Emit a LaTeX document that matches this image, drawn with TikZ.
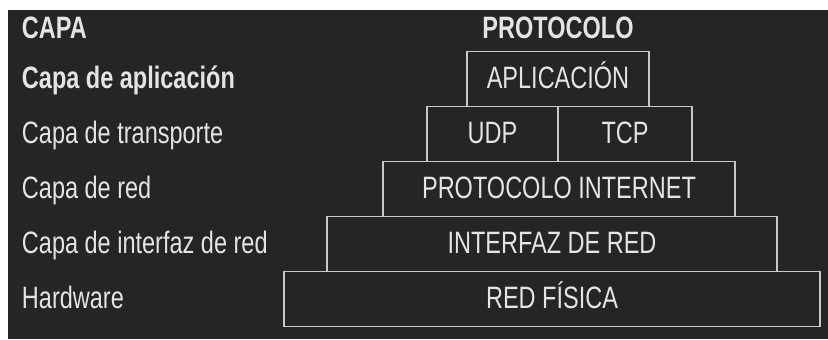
\documentclass[tikz,border=0pt]{standalone}
\usepackage{fontspec}
\setmainfont{Liberation Sans}[FakeStretch=0.76]
\usetikzlibrary{positioning}
\definecolor{mybg}{RGB}{37,37,37}
\definecolor{myline}{RGB}{200,200,200}
\definecolor{mytext}{RGB}{228,228,228}

\begin{document}
\begin{tikzpicture}[
  every node/.style={text=mytext,font=\fontsize{22}{26}\selectfont},
  head/.style={font=\fontsize{22}{26}\selectfont\bfseries},
  layer/.style={draw=myline,line width=1pt,rectangle,minimum height=1.375cm,
    inner sep=0pt,outer sep=0pt,text height=0.53cm,text depth=0.06cm},
  capa/.style={anchor=base west}
]
\useasboundingbox (0,0) rectangle (20.7,8.475);
\fill[white] (0,0) rectangle (20.7,8.475);
\fill[mybg] (0.2,0) rectangle (20.7,8.225);

% the protocol stack
\node[layer,minimum width=13.4cm] (fisica) at (13.8,1.0) {RED FÍSICA};
\node[layer,minimum width=11.25cm,above=0pt of fisica] (interfaz) {INTERFAZ DE RED};
\node[layer,minimum width=8.8cm,above=0pt of interfaz,xshift=0.175cm] (ip) {PROTOCOLO INTERNET};
\node[layer,minimum width=3.275cm,anchor=south west] (udp) at ([xshift=1.1cm]ip.north west) {UDP};
\node[layer,minimum width=3.35cm,right=0pt of udp] (tcp) {TCP};
\node[layer,minimum width=4.55cm,anchor=south] (app) at (udp.north east) {APLICACIÓN};

% the headings
\node[head,capa] (capa) at (0.425,7.525) {CAPA};
\node[head,anchor=base] (protocolo) at (app.center |- capa.base) {PROTOCOLO};

% the layer names
\node[head,capa] (lapp) at (0.425,0 |- app.base) {Capa de aplicación};
\node[capa] (ltrans) at (0.425,0 |- udp.base) {Capa de transporte};
\node[capa] (lred) at (0.425,0 |- ip.base) {Capa de red};
\node[capa] (lint) at (0.425,0 |- interfaz.base) {Capa de interfaz de red};
\node[capa] (lhw) at (0.425,0 |- fisica.base) {Hardware};
\end{tikzpicture}
\end{document}
